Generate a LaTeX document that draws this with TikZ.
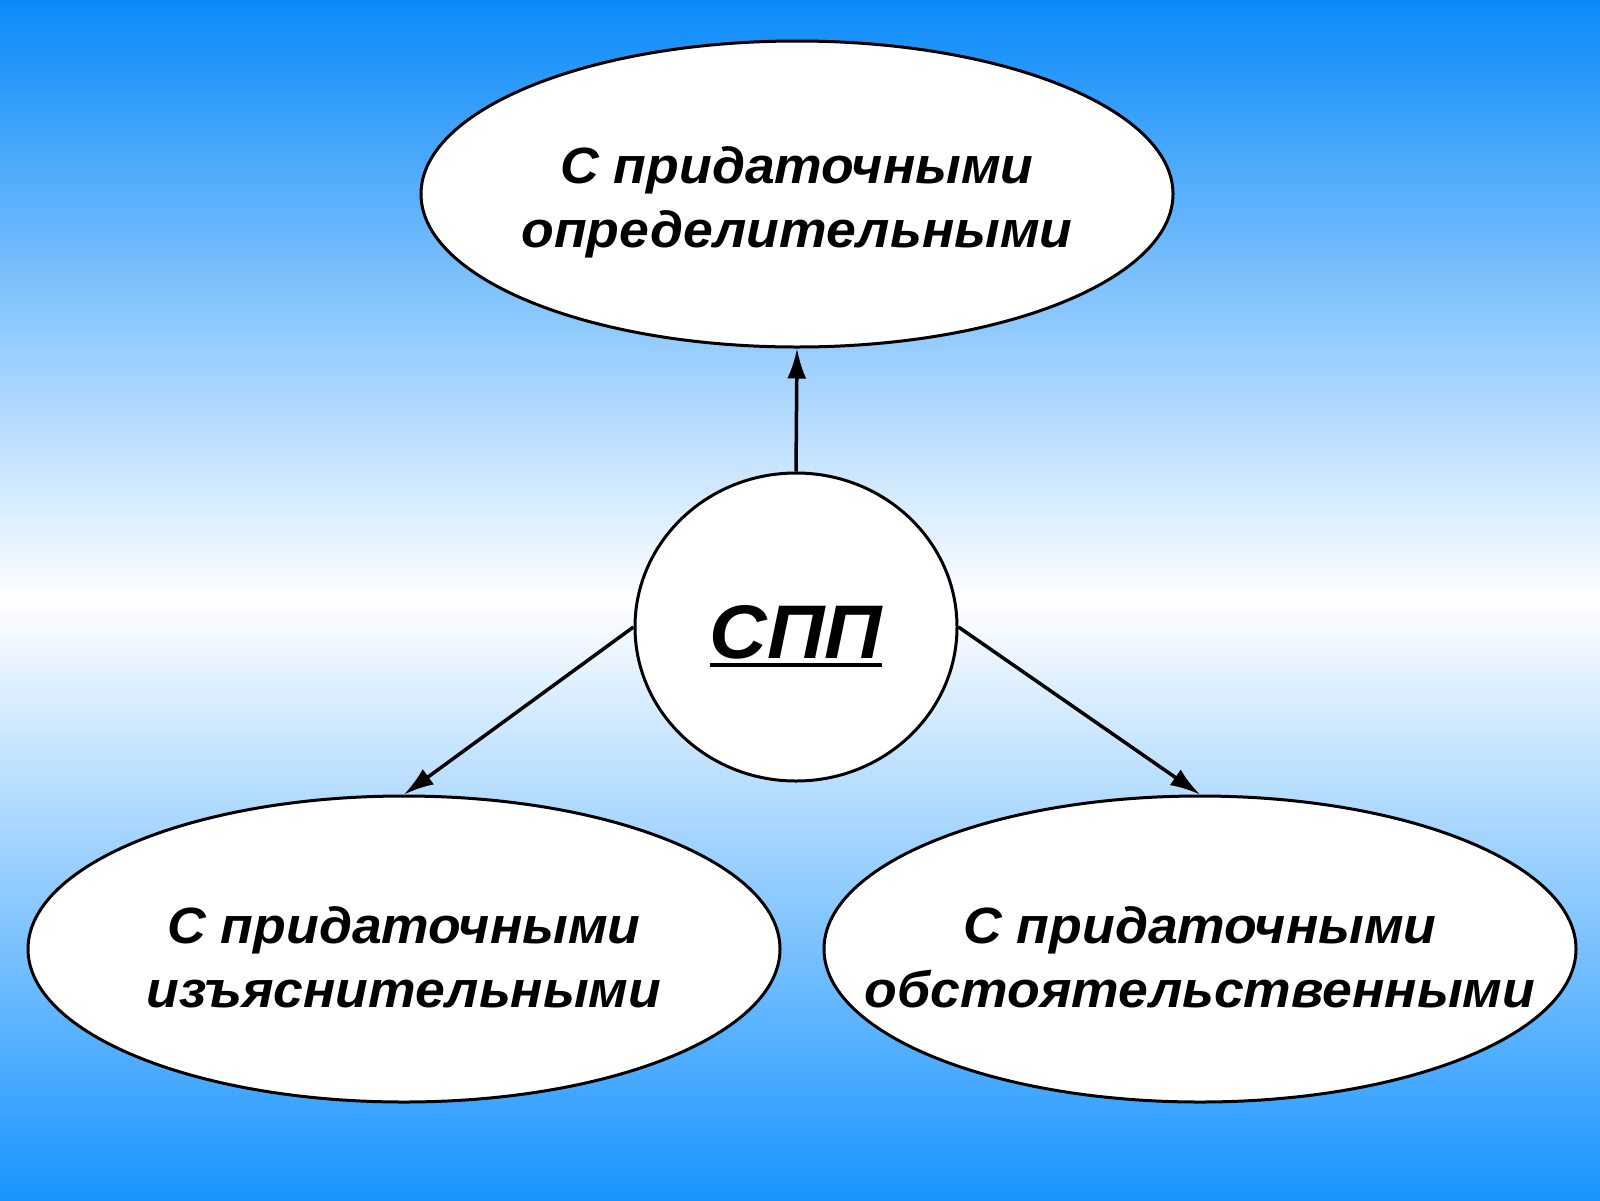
\documentclass[tikz,border=0pt]{standalone}
\usepackage{fontspec}
\setmainfont{Liberation Sans}[FakeStretch=1.05]
\usetikzlibrary{shapes.geometric,arrows.meta}
\definecolor{skytop}{RGB}{10,138,250}
\definecolor{skybottom}{RGB}{24,148,255}
\newcommand{\thickul}[1]{\setbox0\hbox{#1}\leavevmode\rlap{\rule[-9pt]{\wd0}{4pt}}\box0}

\begin{document}
\begin{tikzpicture}[x=1pt,y=-1pt,
  bubble/.style={ellipse,draw,line width=3pt,fill=white,inner sep=0pt},
  caption/.style={align=center,font=\fontsize{51}{64}\selectfont\bfseries\itshape},
  link/.style={line width=3.5pt,-{Latex[length=30pt,width=19pt]}}]
% Background gradient
\shade[top color=skytop,bottom color=skybottom,middle color=white] (0,0) rectangle (1600,1200);
\useasboundingbox (0,0) rectangle (1600,1200);

% Ellipses
\node[bubble,minimum width=752pt,minimum height=306pt] (def) at (797,194) {};
\node[bubble,minimum width=752pt,minimum height=306pt] (expl) at (404,949) {};
\node[bubble,minimum width=752pt,minimum height=306pt] (adv) at (1200,949) {};
\node[bubble,minimum width=322pt,minimum height=308pt] (spp) at (796,627) {};

% Texts
\node[caption] (deftext) at ([yshift=-8pt]def.center) {С придаточными\\определительными};
\node[caption] (expltext) at ([yshift=-8pt]expl.center) {С придаточными\\изъяснительными};
\node[caption] (advtext) at ([yshift=-8pt]adv.center) {С придаточными\\обстоятельственными};
\node[font=\fontsize{76}{76}\selectfont\bfseries\itshape] (spptext) at ([yshift=-9pt]spp.center) {\thickul{СПП}};

% Arrows
\draw[link] (spp.north) -- (def.south);
\draw[link] (spp.west) -- (expl.north);
\draw[link] (spp.east) -- (adv.north);
\end{tikzpicture}
\end{document}
